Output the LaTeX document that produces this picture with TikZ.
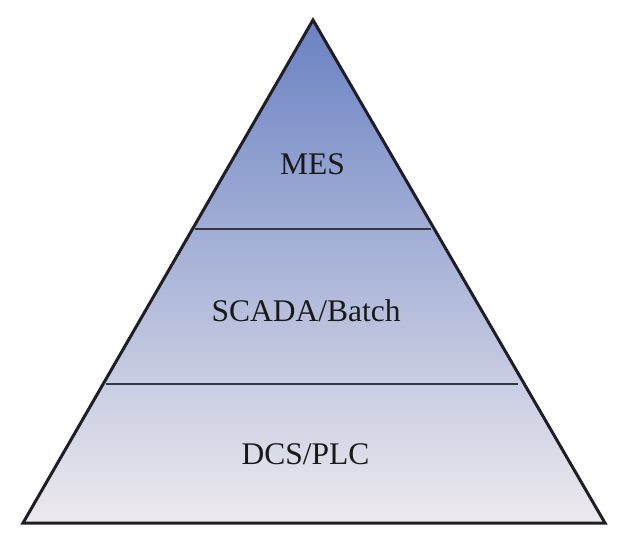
\documentclass[tikz,border=0pt]{standalone}
\usepackage{fontspec}
\setmainfont{Liberation Serif}
\definecolor{topblue}{HTML}{6A82C3}
\definecolor{midblue}{HTML}{9CA9D7}
\definecolor{basegray}{HTML}{EDEAEE}
\definecolor{edgegray}{HTML}{1E1E24}
\definecolor{sepgray}{HTML}{35363F}

\begin{document}
\begin{tikzpicture}[x=1pt,y=-1pt]
\useasboundingbox (0,0) rectangle (630,546);
\coordinate (apex) at (313,20);
\coordinate (bl) at (23,523);
\coordinate (br) at (605,523);
% shaded body of the pyramid
\shade [top color=topblue, middle color=midblue, bottom color=basegray] (apex)--(br)--(bl)--cycle;
% layer separators
\coordinate (s1l) at (195,229);
\coordinate (s1r) at (431,229);
\coordinate (s2l) at (106,384);
\coordinate (s2r) at (518,384);
\draw [sepgray, line width=2.8pt] (s1l)--(s1r);
\draw [sepgray, line width=2.8pt] (s2l)--(s2r);
\draw [edgegray, line width=3pt, line join=miter] (apex)--(br)--(bl)--cycle;
\tikzset{lbl/.style={anchor=base, font=\fontsize{31.5}{36}\selectfont, text=black!90}}
\node[lbl] (mes) at (312.5,174) {MES};
\node[lbl] (scada) at (306,321) {SCADA/Batch};
\node[lbl] (dcs) at (305.5,464) {DCS/PLC};
\end{tikzpicture}
\end{document}
